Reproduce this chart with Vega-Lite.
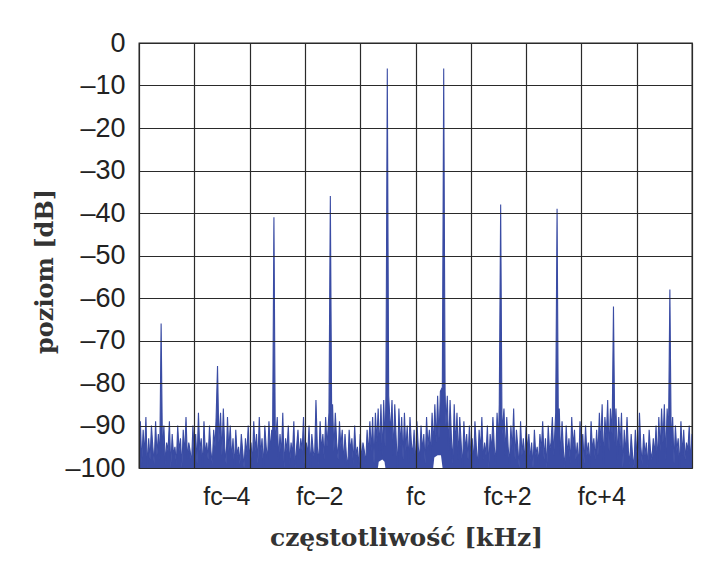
{
  "$schema": "https://vega.github.io/schema/vega-lite/v6.json",
  "width": 553,
  "height": 425,
  "autosize": {"type": "none"},
  "padding": {"left": 139, "top": 43, "right": 20, "bottom": 95},
  "background": "white",
  "datasets": {
    "spectrum": [
    {"f": -5, "dB": -96}, {"f": -4.975, "dB": -89}, {"f": -4.95, "dB": -99}, {"f": -4.925, "dB": -91}, {"f": -4.9, "dB": -97},
    {"f": -4.875, "dB": -88}, {"f": -4.85, "dB": -100}, {"f": -4.825, "dB": -93}, {"f": -4.8, "dB": -98}, {"f": -4.775, "dB": -90},
    {"f": -4.75, "dB": -95}, {"f": -4.725, "dB": -99}, {"f": -4.7, "dB": -89}, {"f": -4.675, "dB": -97}, {"f": -4.65, "dB": -92},
    {"f": -4.625, "dB": -98}, {"f": -4.6, "dB": -66}, {"f": -4.575, "dB": -97}, {"f": -4.55, "dB": -90}, {"f": -4.525, "dB": -99},
    {"f": -4.5, "dB": -94}, {"f": -4.475, "dB": -96}, {"f": -4.45, "dB": -89}, {"f": -4.425, "dB": -100}, {"f": -4.4, "dB": -92},
    {"f": -4.375, "dB": -97}, {"f": -4.35, "dB": -95}, {"f": -4.325, "dB": -99}, {"f": -4.3, "dB": -90}, {"f": -4.275, "dB": -96},
    {"f": -4.25, "dB": -93}, {"f": -4.225, "dB": -100}, {"f": -4.2, "dB": -91}, {"f": -4.175, "dB": -97}, {"f": -4.15, "dB": -88},
    {"f": -4.125, "dB": -98}, {"f": -4.1, "dB": -94}, {"f": -4.075, "dB": -96}, {"f": -4.05, "dB": -99}, {"f": -4.025, "dB": -90},
    {"f": -4, "dB": -97}, {"f": -3.975, "dB": -92}, {"f": -3.95, "dB": -99}, {"f": -3.925, "dB": -87}, {"f": -3.9, "dB": -96},
    {"f": -3.875, "dB": -93}, {"f": -3.85, "dB": -100}, {"f": -3.825, "dB": -89}, {"f": -3.8, "dB": -97}, {"f": -3.775, "dB": -94},
    {"f": -3.75, "dB": -98}, {"f": -3.725, "dB": -90}, {"f": -3.7, "dB": -96}, {"f": -3.675, "dB": -99}, {"f": -3.65, "dB": -91},
    {"f": -3.625, "dB": -95}, {"f": -3.605, "dB": -88}, {"f": -3.58, "dB": -76}, {"f": -3.555, "dB": -94}, {"f": -3.525, "dB": -87},
    {"f": -3.5, "dB": -97}, {"f": -3.475, "dB": -86}, {"f": -3.45, "dB": -95}, {"f": -3.425, "dB": -99}, {"f": -3.4, "dB": -88},
    {"f": -3.375, "dB": -96}, {"f": -3.35, "dB": -90}, {"f": -3.325, "dB": -98}, {"f": -3.3, "dB": -93}, {"f": -3.275, "dB": -100},
    {"f": -3.25, "dB": -91}, {"f": -3.225, "dB": -97}, {"f": -3.2, "dB": -95}, {"f": -3.175, "dB": -99}, {"f": -3.15, "dB": -92},
    {"f": -3.125, "dB": -96}, {"f": -3.1, "dB": -100}, {"f": -3.075, "dB": -93}, {"f": -3.05, "dB": -97}, {"f": -3.025, "dB": -90},
    {"f": -3, "dB": -98}, {"f": -2.975, "dB": -94}, {"f": -2.95, "dB": -99}, {"f": -2.925, "dB": -89}, {"f": -2.9, "dB": -96},
    {"f": -2.875, "dB": -92}, {"f": -2.85, "dB": -99}, {"f": -2.825, "dB": -88}, {"f": -2.8, "dB": -97}, {"f": -2.775, "dB": -93},
    {"f": -2.75, "dB": -100}, {"f": -2.725, "dB": -90}, {"f": -2.7, "dB": -95}, {"f": -2.675, "dB": -98}, {"f": -2.65, "dB": -89},
    {"f": -2.625, "dB": -96}, {"f": -2.6, "dB": -91}, {"f": -2.585, "dB": -94}, {"f": -2.56, "dB": -41}, {"f": -2.535, "dB": -95},
    {"f": -2.5, "dB": -88}, {"f": -2.475, "dB": -98}, {"f": -2.45, "dB": -92}, {"f": -2.425, "dB": -97}, {"f": -2.4, "dB": -87},
    {"f": -2.375, "dB": -100}, {"f": -2.35, "dB": -93}, {"f": -2.325, "dB": -96}, {"f": -2.3, "dB": -90}, {"f": -2.275, "dB": -99},
    {"f": -2.25, "dB": -94}, {"f": -2.225, "dB": -97}, {"f": -2.2, "dB": -89}, {"f": -2.175, "dB": -100}, {"f": -2.15, "dB": -95},
    {"f": -2.125, "dB": -91}, {"f": -2.1, "dB": -98}, {"f": -2.075, "dB": -93}, {"f": -2.05, "dB": -96}, {"f": -2.025, "dB": -88},
    {"f": -2, "dB": -99}, {"f": -1.975, "dB": -94}, {"f": -1.95, "dB": -97}, {"f": -1.925, "dB": -90}, {"f": -1.9, "dB": -100},
    {"f": -1.875, "dB": -92}, {"f": -1.85, "dB": -96}, {"f": -1.825, "dB": -98}, {"f": -1.8, "dB": -84}, {"f": -1.775, "dB": -95},
    {"f": -1.75, "dB": -99}, {"f": -1.725, "dB": -89}, {"f": -1.7, "dB": -96}, {"f": -1.675, "dB": -92}, {"f": -1.65, "dB": -98},
    {"f": -1.625, "dB": -88}, {"f": -1.6, "dB": -95}, {"f": -1.565, "dB": -87}, {"f": -1.54, "dB": -36}, {"f": -1.515, "dB": -90},
    {"f": -1.5, "dB": -85}, {"f": -1.475, "dB": -96}, {"f": -1.45, "dB": -87}, {"f": -1.425, "dB": -94}, {"f": -1.4, "dB": -98},
    {"f": -1.375, "dB": -89}, {"f": -1.35, "dB": -95}, {"f": -1.325, "dB": -91}, {"f": -1.3, "dB": -99}, {"f": -1.275, "dB": -92},
    {"f": -1.25, "dB": -97}, {"f": -1.225, "dB": -100}, {"f": -1.2, "dB": -91}, {"f": -1.175, "dB": -96}, {"f": -1.15, "dB": -93},
    {"f": -1.125, "dB": -99}, {"f": -1.1, "dB": -90}, {"f": -1.075, "dB": -97}, {"f": -1.05, "dB": -95}, {"f": -1.025, "dB": -100},
    {"f": -1, "dB": -92}, {"f": -0.975, "dB": -98}, {"f": -0.95, "dB": -94}, {"f": -0.925, "dB": -96}, {"f": -0.9, "dB": -99},
    {"f": -0.875, "dB": -91}, {"f": -0.85, "dB": -97}, {"f": -0.825, "dB": -89}, {"f": -0.8, "dB": -96}, {"f": -0.775, "dB": -88},
    {"f": -0.75, "dB": -99}, {"f": -0.725, "dB": -87}, {"f": -0.7, "dB": -94}, {"f": -0.675, "dB": -86}, {"f": -0.65, "dB": -96},
    {"f": -0.625, "dB": -85}, {"f": -0.6, "dB": -97}, {"f": -0.575, "dB": -84}, {"f": -0.55, "dB": -95}, {"f": -0.535, "dB": -83},
    {"f": -0.51, "dB": -6}, {"f": -0.485, "dB": -83}, {"f": -0.45, "dB": -92}, {"f": -0.425, "dB": -84}, {"f": -0.4, "dB": -97},
    {"f": -0.375, "dB": -85}, {"f": -0.35, "dB": -93}, {"f": -0.325, "dB": -100}, {"f": -0.3, "dB": -86}, {"f": -0.275, "dB": -95},
    {"f": -0.25, "dB": -88}, {"f": -0.225, "dB": -98}, {"f": -0.2, "dB": -87}, {"f": -0.175, "dB": -96}, {"f": -0.15, "dB": -90},
    {"f": -0.125, "dB": -99}, {"f": -0.1, "dB": -88}, {"f": -0.075, "dB": -94}, {"f": -0.05, "dB": -97}, {"f": -0.025, "dB": -91},
    {"f": 0, "dB": -100}, {"f": 0.025, "dB": -89}, {"f": 0.05, "dB": -95}, {"f": 0.075, "dB": -98}, {"f": 0.1, "dB": -90},
    {"f": 0.125, "dB": -96}, {"f": 0.15, "dB": -92}, {"f": 0.175, "dB": -99}, {"f": 0.2, "dB": -88}, {"f": 0.225, "dB": -95},
    {"f": 0.25, "dB": -91}, {"f": 0.275, "dB": -97}, {"f": 0.3, "dB": -87}, {"f": 0.325, "dB": -95}, {"f": 0.35, "dB": -85},
    {"f": 0.375, "dB": -94}, {"f": 0.4, "dB": -83}, {"f": 0.425, "dB": -93}, {"f": 0.45, "dB": -82}, {"f": 0.485, "dB": -81},
    {"f": 0.51, "dB": -6}, {"f": 0.535, "dB": -82}, {"f": 0.55, "dB": -90}, {"f": 0.575, "dB": -83}, {"f": 0.6, "dB": -96},
    {"f": 0.625, "dB": -84}, {"f": 0.65, "dB": -93}, {"f": 0.675, "dB": -99}, {"f": 0.7, "dB": -85}, {"f": 0.725, "dB": -95},
    {"f": 0.75, "dB": -87}, {"f": 0.775, "dB": -98}, {"f": 0.8, "dB": -88}, {"f": 0.825, "dB": -94}, {"f": 0.85, "dB": -100},
    {"f": 0.875, "dB": -89}, {"f": 0.9, "dB": -96}, {"f": 0.925, "dB": -92}, {"f": 0.95, "dB": -98}, {"f": 0.975, "dB": -90},
    {"f": 1, "dB": -97}, {"f": 1.025, "dB": -93}, {"f": 1.05, "dB": -99}, {"f": 1.075, "dB": -89}, {"f": 1.1, "dB": -95},
    {"f": 1.125, "dB": -100}, {"f": 1.15, "dB": -91}, {"f": 1.175, "dB": -96}, {"f": 1.2, "dB": -88}, {"f": 1.225, "dB": -98},
    {"f": 1.25, "dB": -94}, {"f": 1.275, "dB": -97}, {"f": 1.3, "dB": -90}, {"f": 1.325, "dB": -100}, {"f": 1.35, "dB": -92},
    {"f": 1.375, "dB": -96}, {"f": 1.4, "dB": -88}, {"f": 1.425, "dB": -95}, {"f": 1.45, "dB": -99}, {"f": 1.475, "dB": -87},
    {"f": 1.5, "dB": -94}, {"f": 1.515, "dB": -85}, {"f": 1.54, "dB": -38}, {"f": 1.565, "dB": -92}, {"f": 1.6, "dB": -86},
    {"f": 1.625, "dB": -97}, {"f": 1.65, "dB": -88}, {"f": 1.675, "dB": -95}, {"f": 1.7, "dB": -99}, {"f": 1.725, "dB": -90},
    {"f": 1.75, "dB": -96}, {"f": 1.775, "dB": -86}, {"f": 1.8, "dB": -98}, {"f": 1.825, "dB": -91}, {"f": 1.85, "dB": -95},
    {"f": 1.875, "dB": -100}, {"f": 1.9, "dB": -89}, {"f": 1.925, "dB": -97}, {"f": 1.95, "dB": -93}, {"f": 1.975, "dB": -99},
    {"f": 2, "dB": -90}, {"f": 2.025, "dB": -96}, {"f": 2.05, "dB": -92}, {"f": 2.075, "dB": -98}, {"f": 2.1, "dB": -94},
    {"f": 2.125, "dB": -100}, {"f": 2.15, "dB": -91}, {"f": 2.175, "dB": -97}, {"f": 2.2, "dB": -95}, {"f": 2.225, "dB": -99},
    {"f": 2.25, "dB": -92}, {"f": 2.275, "dB": -96}, {"f": 2.3, "dB": -89}, {"f": 2.325, "dB": -98}, {"f": 2.35, "dB": -93},
    {"f": 2.375, "dB": -100}, {"f": 2.4, "dB": -90}, {"f": 2.425, "dB": -96}, {"f": 2.45, "dB": -94}, {"f": 2.475, "dB": -88},
    {"f": 2.5, "dB": -97}, {"f": 2.535, "dB": -87}, {"f": 2.56, "dB": -39}, {"f": 2.585, "dB": -95}, {"f": 2.6, "dB": -86},
    {"f": 2.625, "dB": -98}, {"f": 2.65, "dB": -89}, {"f": 2.675, "dB": -96}, {"f": 2.7, "dB": -100}, {"f": 2.725, "dB": -90},
    {"f": 2.75, "dB": -97}, {"f": 2.775, "dB": -93}, {"f": 2.8, "dB": -99}, {"f": 2.825, "dB": -88}, {"f": 2.85, "dB": -95},
    {"f": 2.875, "dB": -91}, {"f": 2.9, "dB": -98}, {"f": 2.925, "dB": -94}, {"f": 2.95, "dB": -100}, {"f": 2.975, "dB": -89},
    {"f": 3, "dB": -96}, {"f": 3.025, "dB": -92}, {"f": 3.05, "dB": -99}, {"f": 3.075, "dB": -90}, {"f": 3.1, "dB": -97},
    {"f": 3.125, "dB": -94}, {"f": 3.15, "dB": -100}, {"f": 3.175, "dB": -89}, {"f": 3.2, "dB": -96}, {"f": 3.225, "dB": -93},
    {"f": 3.25, "dB": -98}, {"f": 3.275, "dB": -91}, {"f": 3.3, "dB": -97}, {"f": 3.325, "dB": -87}, {"f": 3.35, "dB": -95},
    {"f": 3.375, "dB": -85}, {"f": 3.4, "dB": -99}, {"f": 3.425, "dB": -88}, {"f": 3.45, "dB": -93}, {"f": 3.475, "dB": -84},
    {"f": 3.5, "dB": -96}, {"f": 3.525, "dB": -86}, {"f": 3.555, "dB": -92}, {"f": 3.58, "dB": -62}, {"f": 3.605, "dB": -94},
    {"f": 3.625, "dB": -86}, {"f": 3.65, "dB": -98}, {"f": 3.675, "dB": -88}, {"f": 3.7, "dB": -95}, {"f": 3.725, "dB": -87},
    {"f": 3.75, "dB": -100}, {"f": 3.775, "dB": -91}, {"f": 3.8, "dB": -97}, {"f": 3.825, "dB": -88}, {"f": 3.85, "dB": -96},
    {"f": 3.875, "dB": -99}, {"f": 3.9, "dB": -92}, {"f": 3.925, "dB": -97}, {"f": 3.95, "dB": -100}, {"f": 3.975, "dB": -91},
    {"f": 4, "dB": -96}, {"f": 4.025, "dB": -98}, {"f": 4.05, "dB": -87}, {"f": 4.075, "dB": -95}, {"f": 4.1, "dB": -99},
    {"f": 4.125, "dB": -92}, {"f": 4.15, "dB": -97}, {"f": 4.175, "dB": -94}, {"f": 4.2, "dB": -100}, {"f": 4.225, "dB": -91},
    {"f": 4.25, "dB": -96}, {"f": 4.275, "dB": -98}, {"f": 4.3, "dB": -93}, {"f": 4.325, "dB": -97}, {"f": 4.35, "dB": -90},
    {"f": 4.375, "dB": -99}, {"f": 4.4, "dB": -88}, {"f": 4.425, "dB": -96}, {"f": 4.45, "dB": -86}, {"f": 4.475, "dB": -94},
    {"f": 4.5, "dB": -85}, {"f": 4.525, "dB": -98}, {"f": 4.55, "dB": -86}, {"f": 4.575, "dB": -92}, {"f": 4.6, "dB": -58},
    {"f": 4.625, "dB": -95}, {"f": 4.65, "dB": -88}, {"f": 4.675, "dB": -99}, {"f": 4.7, "dB": -90}, {"f": 4.725, "dB": -96},
    {"f": 4.75, "dB": -93}, {"f": 4.775, "dB": -100}, {"f": 4.8, "dB": -89}, {"f": 4.825, "dB": -97}, {"f": 4.85, "dB": -91},
    {"f": 4.875, "dB": -98}, {"f": 4.9, "dB": -94}, {"f": 4.925, "dB": -96}, {"f": 4.95, "dB": -90}, {"f": 4.975, "dB": -99},
    {"f": 5, "dB": -92}
    ],
    "gaps": [
      {"f": -0.68, "top": -100, "side": "left"}, {"f": -0.665, "top": -98.5, "side": "left"}, {"f": -0.6, "top": -98, "side": "left"}, {"f": -0.56, "top": -98.5, "side": "left"}, {"f": -0.545, "top": -100, "side": "left"},
      {"f": 0.32, "top": -100, "side": "right"}, {"f": 0.34, "top": -97.5, "side": "right"}, {"f": 0.4, "top": -97, "side": "right"}, {"f": 0.46, "top": -97, "side": "right"}, {"f": 0.49, "top": -100, "side": "right"}
    ]
  },
  "encoding": {
    "x": {
      "field": "f", "type": "quantitative",
      "scale": {"domain": [-5, 5], "nice": false, "zero": false},
      "axis": {
        "values": [-5, -4, -3, -2, -1, 0, 1, 2, 3, 4, 5, -3.42, -1.74, 1.66, 3.36],
        "grid": true,
        "gridColor": "#2a2a2a",
        "gridWidth": 1.2,
        "gridOpacity": {"condition": {"test": "datum.value == round(datum.value)", "value": 1}, "value": 0},
        "ticks": false,
        "domain": false,
        "labelExpr": "datum.value == -3.42 ? 'fᴄ–4' : datum.value == -1.74 ? 'fᴄ–2' : datum.value == 0 ? 'fᴄ' : datum.value == 1.66 ? 'fᴄ+2' : datum.value == 3.36 ? 'fᴄ+4' : ''",
        "labelFont": "Liberation Sans",
        "labelFontSize": 25,
        "labelColor": "#222",
        "labelPadding": 16,
        "labelOverlap": false,
        "labelFlush": false,
        "labelBound": false,
        "title": "częstotliwość [kHz]",
        "titleFont": "DejaVu Serif",
        "titleFontWeight": "bold",
        "titleFontSize": 25,
        "titleColor": "#333",
        "titlePadding": 16,
        "titleX": 267,
        "zindex": 1
      }
    }
  },
  "layer": [
    {
      "data": {"name": "spectrum"},
      "mark": {"type": "area", "color": "#3a4ca4", "opacity": 1, "fillOpacity": 1, "line": {"color": "#3a4ca4", "strokeWidth": 1.1}, "clip": true},
      "encoding": {
        "y": {
          "field": "dB", "type": "quantitative",
          "scale": {"domain": [-100, 0], "nice": false, "zero": false},
          "axis": {
            "values": [0, -10, -20, -30, -40, -50, -60, -70, -80, -90, -100],
            "grid": true,
            "gridColor": "#2a2a2a",
            "gridWidth": 1.2,
            "ticks": false,
            "domain": false,
            "labelExpr": "datum.value == 0 ? '0' : '–' + abs(datum.value)",
            "labelFont": "Liberation Sans",
            "labelFontSize": 27,
            "labelColor": "#222",
            "labelPadding": 14,
            "labelFlush": false,
            "labelBound": false,
            "title": "poziom [dB]",
            "titleFont": "DejaVu Serif",
            "titleFontWeight": "bold",
            "titleFontSize": 24,
            "titleColor": "#333",
            "titlePadding": 7,
            "titleY": 228,
            "zindex": 1
          }
        },
        "y2": {"datum": -100}
      }
    },
    {
      "data": {"name": "gaps"},
      "mark": {"type": "area", "color": "white", "opacity": 1, "fillOpacity": 1, "clip": true},
      "encoding": {
        "y": {"field": "top", "type": "quantitative"},
        "y2": {"datum": -100},
        "detail": {"field": "side", "type": "nominal"}
      }
    }
  ],
  "config": {"view": {"stroke": "#222", "strokeWidth": 1.3}}
}
